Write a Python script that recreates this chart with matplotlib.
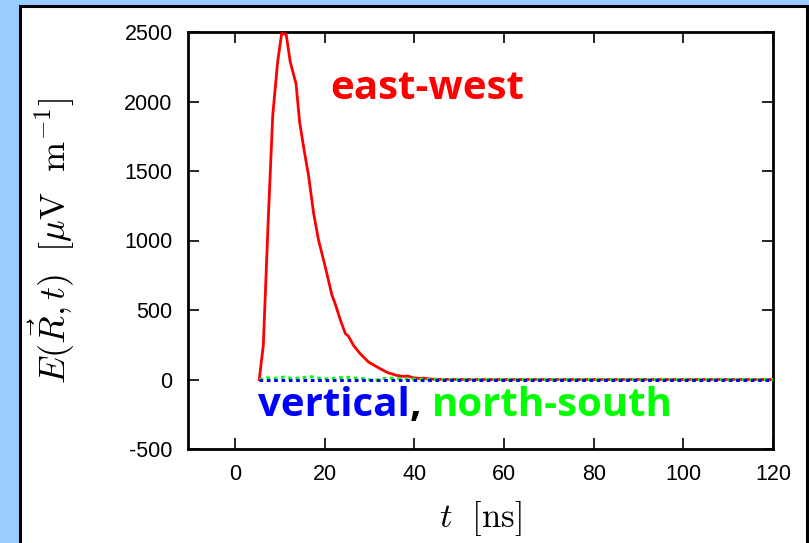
import numpy as np
import matplotlib
matplotlib.use("Agg")
import matplotlib.pyplot as plt
from matplotlib.patches import Rectangle
from matplotlib.transforms import offset_copy

plt.rcParams['mathtext.fontset'] = 'cm'
plt.rcParams['axes.unicode_minus'] = False

# east-west component
t_ew = [5.4, 6.3, 7.4, 8.4, 9.5, 10.4, 11.4, 12.3, 13.6, 14.4, 15.4, 16.4, 17.5,
        18.6, 20.1, 21.6, 22.3, 23.5, 24.6, 25.3, 26.4, 27.9, 29.8, 32.4, 34.0,
        36.1, 37.5, 38.5, 39.8, 41.0, 42.0, 43.6, 46.0, 50.0, 60.0, 80.0, 100.0, 120.0]
v_ew = [0, 246, 1150, 1899, 2286, 2490, 2483, 2286, 2128, 1851, 1650, 1465, 1200,
        1006, 813, 608, 548, 427, 331, 311, 246, 186, 125, 77, 50,
        29, 22, 25, 12, 8, 10, 3, 1, 0, 0, 0, 0, 0]

# north-south component
t_ns = [5.4, 7, 9, 11, 13, 15, 17, 19, 21, 23, 25, 27, 29, 31, 33, 35, 38, 41, 45, 50, 60, 80, 100, 120]
v_ns = [0, 12, 8, 18, 6, 14, 20, 8, 4, 12, 16, 10, 5, -8, 6, 10, 4, 2, 0, 0, 0, 0, 0, 0]

# vertical component
t_vt = [5.4, 10, 20, 30, 40, 50, 60, 80, 100, 120]
v_vt = [0, 0, 0, 0, 0, 0, 0, 0, 0, 0]

xticks = [0, 20, 40, 60, 80, 100, 120]
yticks = [-500, 0, 500, 1000, 1500, 2000, 2500]

fig = plt.figure(figsize=(8.09, 5.43), dpi=100)
fig.patch.set_facecolor('#99ccff')
fig.patches.append(Rectangle((20 / 809, -0.05), 787 / 809, 1.05 - 6 / 543,
                             transform=fig.transFigure, facecolor='white',
                             edgecolor='black', linewidth=2.2, zorder=-10))

ax = fig.add_axes([188 / 809, 94 / 543, 585 / 809, 417 / 543])
ax.set_facecolor('white')

ax.plot(t_ew, v_ew, color='#ff0000', lw=2.0, zorder=3)
ax.plot(t_ns, v_ns, color='#00ff00', lw=2.2, ls=(0, (1.2, 1.2)), zorder=4)
ax.plot(t_vt, v_vt, color='#0000ff', lw=2.2, ls=(0, (1.2, 1.2)), zorder=5)

ax.set_xlim(-10.5, 120)
ax.set_ylim(-500, 2500)
ax.set_xticks(xticks)
ax.set_yticks(yticks)
ax.tick_params(direction='in', length=8, width=1.2, top=True, right=True,
               labelsize=15.5, pad=11)
for lab in ax.get_xticklabels() + ax.get_yticklabels():
    lab.set_family('Liberation Sans')
for sp in ax.spines.values():
    sp.set_linewidth(2.0)

ax.set_xlabel(r'$t\ \ [\mathrm{ns}]$', fontsize=25, labelpad=10)
ax.set_ylabel(r'$E(\vec{R},t)\ \ [\mu\mathrm{V\ \ m}^{-1}]$', fontsize=26, labelpad=34)

ax.text(21.2, 2095, 'east-west', color='#ff0000', fontsize=29, fontweight='bold',
        family='Open Sans', va='center', ha='left')

# multi-colour label
parts = [('vertical', '#0000ff'), (', ', 'black'), ('north-south', '#00ff00')]
fig.canvas.draw()
r = fig.canvas.get_renderer()
trans = ax.transData
for s, c in parts:
    txt = ax.text(5.1, -190, s, color=c, fontsize=29, fontweight='bold',
                  family='Open Sans', va='center', ha='left', transform=trans)
    ext = txt.get_window_extent(renderer=r)
    trans = offset_copy(trans, fig=fig, x=ext.width, y=0, units='dots')

fig.savefig('out.png', dpi=100, facecolor=fig.get_facecolor())
